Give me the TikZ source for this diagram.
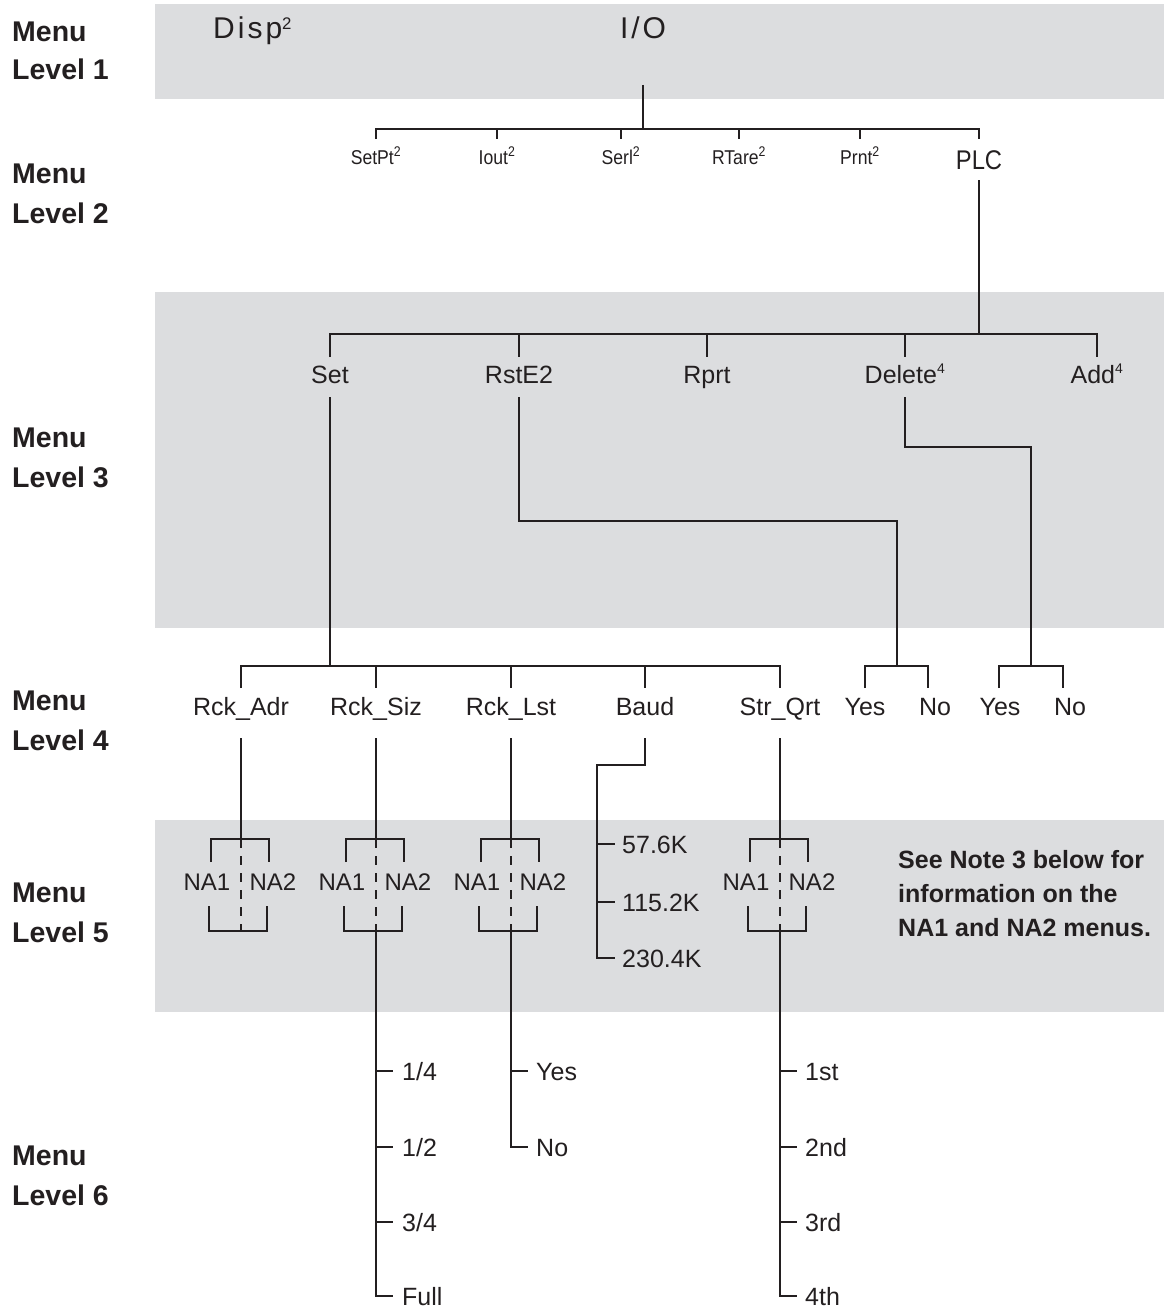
\documentclass[tikz,border=0pt]{standalone}
\usepackage{fontspec}
\setmainfont{Liberation Sans}
\newfontfamily\narrowfont[FakeStretch=0.88]{Liberation Sans}
\newfontfamily\spacedfont[LetterSpace=10]{Liberation Sans}
\definecolor{band}{RGB}{220,221,223}
\definecolor{ink}{RGB}{35,31,32}
% NA1/NA2 bracket: #1 name, #2 centre x
\newcommand\nabr[2]{%
  \node[na] (#1a) at (#2-34,882) {NA1};
  \node[na] (#1b) at (#2+32,882) {NA2};
  \coordinate (#1t) at (#2,839);
  \coordinate (#1u) at (#2,931);
  \draw[wire] (#2-30,862) -- (#2-30,839) -- (#2+28,839) -- (#2+28,862);
  \draw[wire] (#2-32,906) -- (#2-32,931) -- (#2+26,931) -- (#2+26,906);
  \draw[wire,dash pattern=on 9pt off 8pt] (#1t) -- (#1u);
}
\newcommand\smsup[1]{\textsuperscript{\scalebox{0.8}{#1}}}
\begin{document}
\begin{tikzpicture}[x=1pt,y=-1pt,
  wire/.style={draw=ink, line width=2.2pt},
  txt/.style={inner sep=0pt, text=ink, text depth=0pt},
  menu/.style={txt, anchor=west, text height=20pt, font=\bfseries\fontsize{28.5}{32}\selectfont},
  l1/.style={txt, text height=21.5pt, font=\spacedfont\fontsize{30}{34}\selectfont},
  l2/.style={txt, text height=14.2pt, font=\narrowfont\fontsize{20}{23}\selectfont},
  plcs/.style={txt, text height=19.3pt, font=\narrowfont\fontsize{27}{30}\selectfont},
  big/.style={txt, text height=18pt, font=\fontsize{25}{30}\selectfont},
  na/.style={txt, text height=17.2pt, font=\fontsize{24}{28}\selectfont},
  leaf/.style={txt, anchor=west, text height=18pt, font=\fontsize{25}{30}\selectfont},
  note/.style={txt, anchor=west, text height=18pt, font=\bfseries\fontsize{25}{30}\selectfont},
]
\useasboundingbox (0,0) rectangle (1164,1311);
% bands
\fill[band] (155,4) rectangle (1164,99);
\fill[band] (155,292) rectangle (1164,628);
\fill[band] (155,820) rectangle (1164,1012);

% menu level labels
\node[menu] (m1a) at (12,32) {Menu};
\node[menu] (m1b) at (12,70) {Level 1};
\node[menu] (m2a) at (12,173) {Menu};
\node[menu] (m2b) at (12,213) {Level 2};
\node[menu] (m3a) at (12,437) {Menu};
\node[menu] (m3b) at (12,477) {Level 3};
\node[menu] (m4a) at (12,700) {Menu};
\node[menu] (m4b) at (12,740) {Level 4};
\node[menu] (m5a) at (12,892) {Menu};
\node[menu] (m5b) at (12,932) {Level 5};
\node[menu] (m6a) at (12,1155) {Menu};
\node[menu] (m6b) at (12,1195) {Level 6};

% level 1
\node[l1,anchor=west] (disp) at (213,28) {Disp\smsup{2}};
\node[l1] (io) at (643,28) {I/O};

% level 2
\node[l2] (setpt) at (376,157) {SetPt\textsuperscript{2}};
\node[l2] (iout) at (497,157) {Iout\textsuperscript{2}};
\node[l2] (serl) at (621,157) {Serl\textsuperscript{2}};
\node[l2] (rtare) at (739,157) {RTare\textsuperscript{2}};
\node[l2] (prnt) at (860,157) {Prnt\textsuperscript{2}};
\node[plcs] (plc) at (979,160) {PLC};
\draw[wire] (io |- 0,85) -- (io |- 0,129);
\draw[wire] (setpt |- 0,139) -- (setpt |- 0,129) -- (plc |- 0,129) -- (plc |- 0,139);
\foreach \n in {iout,serl,rtare,prnt} \draw[wire] (\n |- 0,129) -- (\n |- 0,139);

% level 3
\node[big] (set) at (330,374) {Set};
\node[big] (rste) at (519,374) {RstE2};
\node[big] (rprt) at (707,374) {Rprt};
\node[big] (delete) at (905,374) {Delete\smsup{4}};
\node[big] (add) at (1097,374) {Add\smsup{4}};
\draw[wire] (plc |- 0,180) -- (plc |- 0,334);
\draw[wire] (set |- 0,357) -- (set |- 0,334) -- (add |- 0,334) -- (add |- 0,357);
\foreach \n in {rste,rprt,delete} \draw[wire] (\n |- 0,334) -- (\n |- 0,357);

% level 4
\node[big] (rckadr) at (241,706) {Rck\_Adr};
\node[big] (rcksiz) at (376,706) {Rck\_Siz};
\node[big] (rcklst) at (511,706) {Rck\_Lst};
\node[big] (baud) at (645,706) {Baud};
\node[big] (strqrt) at (780,706) {Str\_Qrt};
\node[big] (yes1) at (865,706) {Yes};
\node[big] (no1) at (935,706) {No};
\node[big] (yes2) at (1000,706) {Yes};
\node[big] (no2) at (1070,706) {No};
\coordinate (yn1) at (897,666);
\coordinate (yn2) at (1031,666);

\draw[wire] (set |- 0,397) -- (set |- 0,666);
\draw[wire] (rste |- 0,397) |- (897,521) -- (yn1);
\draw[wire] (delete |- 0,397) |- (1031,447) -- (yn2);
\draw[wire] (rckadr |- 0,688) -- (rckadr |- 0,666) -- (strqrt |- 0,666) -- (strqrt |- 0,688);
\foreach \n in {rcksiz,rcklst,baud} \draw[wire] (\n |- 0,666) -- (\n |- 0,688);
\draw[wire] (yes1 |- 0,688) -- (yes1 |- 0,666) -- (928,666) -- (928,688);
\draw[wire] (999,688) -- (999,666) -- (1063,666) -- (1063,688);

% level 5
\nabr{naA}{241}
\nabr{naB}{376}
\nabr{naC}{511}
\nabr{naD}{780}
\draw[wire] (rckadr |- 0,738) -- (naAt);
\draw[wire] (rcksiz |- 0,738) -- (naBt);
\draw[wire] (rcklst |- 0,738) -- (naCt);
\draw[wire] (strqrt |- 0,738) -- (naDt);

\node[leaf] (b1) at (622,844) {57.6K};
\node[leaf] (b2) at (622,902) {115.2K};
\node[leaf] (b3) at (622,958) {230.4K};
\draw[wire] (baud |- 0,738) |- (597,765) |- ([xshift=-7pt]b3.west);
\draw[wire] (b1.west -| 597,0) -- ([xshift=-7pt]b1.west);
\draw[wire] (b2.west -| 597,0) -- ([xshift=-7pt]b2.west);

\node[note] (n1) at (898,859) {See Note 3 below for};
\node[note] (n2) at (898,893) {information on the};
\node[note] (n3) at (898,927) {NA1 and NA2 menus.};

% level 6
\node[leaf] (q1) at (402,1071) {1/4};
\node[leaf] (q2) at (402,1147) {1/2};
\node[leaf] (q3) at (402,1222) {3/4};
\node[leaf] (qf) at (402,1296) {Full};
\draw[wire] (naBu) |- ([xshift=-9pt]qf.west);
\foreach \n in {q1,q2,q3} \draw[wire] (\n.west -| naBu) -- ([xshift=-9pt]\n.west);

\node[leaf] (ly) at (536,1071) {Yes};
\node[leaf] (ln) at (536,1147) {No};
\draw[wire] (naCu) |- ([xshift=-8pt]ln.west);
\draw[wire] (ly.west -| naCu) -- ([xshift=-8pt]ly.west);

\node[leaf] (o1) at (805,1071) {1st};
\node[leaf] (o2) at (805,1147) {2nd};
\node[leaf] (o3) at (805,1222) {3rd};
\node[leaf] (o4) at (805,1296) {4th};
\draw[wire] (naDu) |- ([xshift=-8pt]o4.west);
\foreach \n in {o1,o2,o3} \draw[wire] (\n.west -| naDu) -- ([xshift=-8pt]\n.west);
\end{tikzpicture}
\end{document}
